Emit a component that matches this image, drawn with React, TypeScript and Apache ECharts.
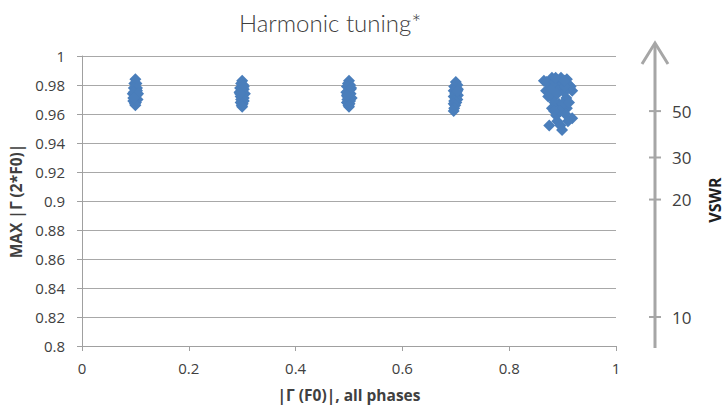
import React, { useEffect, useRef } from "react";
import * as echarts from "echarts";

// |Γ(F0)| (x) vs MAX |Γ(2*F0)| (y)
const cluster01: number[][] = [
  [0.100, 0.984], [0.098, 0.981], [0.102, 0.981], [0.097, 0.978], [0.101, 0.977],
  [0.103, 0.976], [0.099, 0.975], [0.095, 0.974], [0.102, 0.973], [0.100, 0.972],
  [0.098, 0.971], [0.104, 0.970], [0.096, 0.969], [0.101, 0.968], [0.099, 0.967],
  [0.100, 0.966], [0.103, 0.978], [0.097, 0.975], [0.105, 0.974], [0.096, 0.971],
];
const cluster03: number[][] = [
  [0.300, 0.983], [0.298, 0.981], [0.302, 0.980], [0.296, 0.978], [0.303, 0.977],
  [0.299, 0.976], [0.295, 0.975], [0.305, 0.974], [0.300, 0.973], [0.297, 0.972],
  [0.303, 0.971], [0.298, 0.970], [0.303, 0.969], [0.297, 0.968], [0.301, 0.967],
  [0.299, 0.966], [0.300, 0.965], [0.303, 0.979], [0.296, 0.974],
];
const cluster05: number[][] = [
  [0.500, 0.983], [0.498, 0.981], [0.502, 0.980], [0.496, 0.979], [0.503, 0.977],
  [0.499, 0.976], [0.495, 0.975], [0.503, 0.974], [0.500, 0.973], [0.497, 0.972],
  [0.505, 0.971], [0.497, 0.970], [0.502, 0.969], [0.496, 0.968], [0.501, 0.967],
  [0.499, 0.966], [0.500, 0.965], [0.504, 0.978], [0.496, 0.973],
];
const cluster07: number[][] = [
  [0.700, 0.982], [0.703, 0.980], [0.697, 0.979], [0.704, 0.977], [0.696, 0.976],
  [0.701, 0.975], [0.699, 0.974], [0.704, 0.973], [0.696, 0.972], [0.700, 0.971],
  [0.703, 0.970], [0.697, 0.969], [0.701, 0.968], [0.696, 0.967], [0.699, 0.966],
  [0.697, 0.964], [0.696, 0.962], [0.703, 0.976],
];
const cluster09: number[][] = [
  [0.865, 0.983], [0.880, 0.985], [0.897, 0.985], [0.908, 0.984], [0.912, 0.980],
  [0.869, 0.976], [0.918, 0.976], [0.880, 0.971], [0.907, 0.971], [0.880, 0.964],
  [0.908, 0.964], [0.888, 0.959], [0.918, 0.957], [0.875, 0.952], [0.899, 0.949],
  [0.893, 0.978], [0.893, 0.967], [0.875, 0.980], [0.903, 0.975], [0.870, 0.982],
  [0.885, 0.982], [0.900, 0.981], [0.915, 0.979], [0.878, 0.977], [0.890, 0.974],
  [0.905, 0.979], [0.885, 0.968], [0.900, 0.967], [0.895, 0.962], [0.905, 0.960],
  [0.890, 0.955], [0.910, 0.955], [0.873, 0.972], [0.912, 0.968], [0.887, 0.985],
  [0.903, 0.983], [0.884, 0.962], [0.896, 0.952],
];

const yTickValues = [0.8, 0.82, 0.84, 0.86, 0.88, 0.9, 0.92, 0.94, 0.96, 0.98, 1];
const xTickValues = [0, 0.2, 0.4, 0.6, 0.8, 1];

// VSWR scale on the right, placed at these |Γ| heights
const vswrLabels = ["10", "20", "30", "50"];
const vswrPositions = [0.820, 0.901, 0.930, 0.962];

const TEXT = "#404040";
const AXIS = "#a0a0a0";
const GRIDC = "#a8a8a8";
const BLUE = "#4a7ebb";
const ARROW = "#a6a6a6";

export default function App() {
  const ref = useRef<HTMLDivElement>(null);
  useEffect(() => {
    document.body.style.margin = "0";
    if (!ref.current) return;
    const chart = echarts.init(ref.current, undefined, { renderer: "svg" });
    const points = [...cluster01, ...cluster03, ...cluster05, ...cluster07, ...cluster09];
    const vswrData = vswrPositions.map((p, i) => [1, p, vswrLabels[i]]);
    chart.setOption({
      animation: false,
      title: {
        text: "Harmonic tuning*",
        left: 234,
        top: 5,
        textStyle: { fontFamily: "Lato", fontWeight: 300, fontSize: 24, color: "#404040" },
      },
      grid: { left: 82, right: 110, top: 56, bottom: 62 },
      xAxis: {
        type: "value",
        min: xTickValues[0],
        max: xTickValues[xTickValues.length - 1],
        interval: 0.2,
        name: "|Γ (F0)|, all phases",
        nameLocation: "middle",
        nameGap: 41,
        nameTextStyle: { fontFamily: "Open Sans", fontWeight: "bold", fontSize: 15.5, color: TEXT },
        axisLine: { show: true, lineStyle: { color: AXIS, width: 1 } },
        axisTick: { show: true, length: 5, lineStyle: { color: AXIS } },
        splitLine: { show: false },
        axisLabel: {
          margin: 14,
          fontFamily: "Open Sans",
          fontSize: 15,
          color: TEXT,
          formatter: (v: number) => String(+v.toFixed(2)),
        },
      },
      yAxis: {
        type: "value",
        min: yTickValues[0],
        max: yTickValues[yTickValues.length - 1],
        interval: 0.02,
        name: "MAX |Γ (2*F0)|",
        nameLocation: "middle",
        nameRotate: 90,
        nameGap: 56,
        nameTextStyle: { fontFamily: "Open Sans", fontWeight: "bold", fontSize: 15.5, color: TEXT },
        axisLine: { show: true, lineStyle: { color: AXIS, width: 1 } },
        axisTick: { show: true, length: 5, lineStyle: { color: AXIS } },
        splitLine: { show: true, lineStyle: { color: GRIDC, width: 1 } },
        axisLabel: {
          margin: 17,
          fontFamily: "Open Sans",
          fontSize: 15,
          color: TEXT,
          formatter: (v: number) => String(+v.toFixed(2)),
        },
      },
      graphic: [
        {
          type: "text",
          x: 715,
          y: 200,
          rotation: Math.PI / 2,
          style: {
            text: "VSWR",
            fontFamily: "Open Sans",
            fontWeight: "bold",
            fontSize: 16,
            fill: "#202020",
            align: "center",
            verticalAlign: "middle",
          },
        },
      ],
      series: [
        {
          type: "scatter",
          symbol: "diamond",
          symbolSize: 12,
          itemStyle: { color: BLUE, opacity: 1 },
          data: points,
        },
        {
          type: "custom",
          silent: true,
          clip: false,
          data: vswrData,
          renderItem: (params: any, api: any) => {
            const pt = api.coord([api.value(0), api.value(1)]);
            const x = pt[0] + 39;
            const y = pt[1];
            const children: any[] = [
              {
                type: "line",
                shape: { x1: x - 6, y1: y, x2: x + 6, y2: y },
                style: { stroke: ARROW, lineWidth: 2 },
              },
              {
                type: "text",
                x: x + 17,
                y: y,
                style: {
                  text: String(api.value(2)),
                  fontFamily: "Open Sans",
                  fontSize: 17,
                  fill: TEXT,
                  verticalAlign: "middle",
                },
              },
            ];
            if (params.dataIndex === 0) {
              const bottom = api.coord([1, 0.8]);
              const top = api.coord([1, 1]);
              const tipY = top[1] - 13;
              children.unshift(
                {
                  type: "line",
                  shape: { x1: x, y1: bottom[1] + 2, x2: x, y2: tipY + 1 },
                  style: { stroke: ARROW, lineWidth: 3 },
                },
                {
                  type: "polyline",
                  shape: { points: [[x - 13, tipY + 21], [x, tipY], [x + 13, tipY + 21]] },
                  style: { stroke: ARROW, lineWidth: 3, fill: null },
                }
              );
            }
            return { type: "group", children };
          },
        },
      ],
    });
    return () => chart.dispose();
  }, []);
  return <div ref={ref} style={{ width: 726, height: 408 }} />;
}
